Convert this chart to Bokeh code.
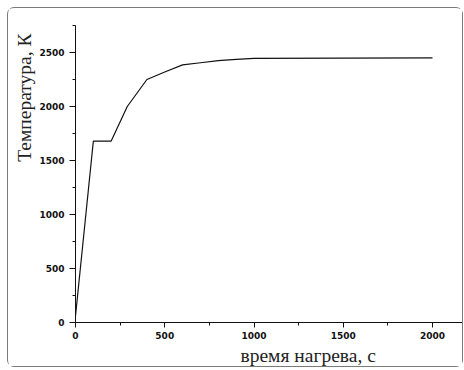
from bokeh.plotting import figure
from bokeh.models import Range1d, FixedTicker, Title
from bokeh.embed import file_html
from bokeh.resources import INLINE

# data
time_s = [0, 100, 200, 290, 400, 500, 600, 700, 800, 900, 1000, 2000]
temp_k = [60, 1680, 1680, 2000, 2250, 2320, 2385, 2405, 2425, 2437, 2445, 2450]

x_major = [0, 500, 1000, 1500, 2000]
x_minor = [250, 750, 1250, 1750]
y_major = [0, 500, 1000, 1500, 2000, 2500]
y_minor = [250, 750, 1250, 1750, 2250, 2750]

x_title = "время нагрева, с"
y_title = "Температура, К"

p = figure(width=456, height=360, output_backend="svg", toolbar_location=None,
           x_range=Range1d(0, 2168), y_range=Range1d(0, 2750),
           min_border_left=67, min_border_right=2, min_border_top=17, min_border_bottom=46)
p.title = None
p.outline_line_color = None
p.grid.visible = False
p.background_fill_color = "white"
p.border_fill_color = "white"
p.styles = {"margin-left": "7px", "margin-top": "7px",
            "border": "1px solid #7a7a7a", "border-radius": "7px", "box-sizing": "border-box"}

p.line(time_s, temp_k, line_color="#111111", line_width=1.2)

for ax, maj, mnr in ((p.xaxis[0], x_major, x_minor), (p.yaxis[0], y_major, y_minor)):
    ax.ticker = FixedTicker(ticks=maj, minor_ticks=mnr)
    ax.axis_line_color = "#111111"
    ax.major_tick_line_color = "#111111"
    ax.minor_tick_line_color = "#111111"
    ax.major_tick_in = 0
    ax.minor_tick_in = 0
    ax.major_tick_out = 6
    ax.minor_tick_out = 3
    ax.major_label_text_font = "DejaVu Sans"
    ax.major_label_text_font_style = "bold"
    ax.major_label_text_font_size = "9px"
    ax.major_label_text_color = "#111111"
    ax.major_label_standoff = 5
p.xaxis[0].major_tick_out = 5
p.xaxis[0].major_label_standoff = 4

p.add_layout(Title(text=y_title, align="right", offset=8, standoff=4,
                   text_font="Liberation Serif", text_font_size="19.5px",
                   text_font_style="normal", text_color="#222222"), "left")
p.add_layout(Title(text=x_title, align="left", offset=165, standoff=3,
                   text_font="Liberation Serif", text_font_size="19.5px",
                   text_font_style="normal", text_color="#222222"), "below")

open("out.html", "w").write(file_html(p, INLINE))
